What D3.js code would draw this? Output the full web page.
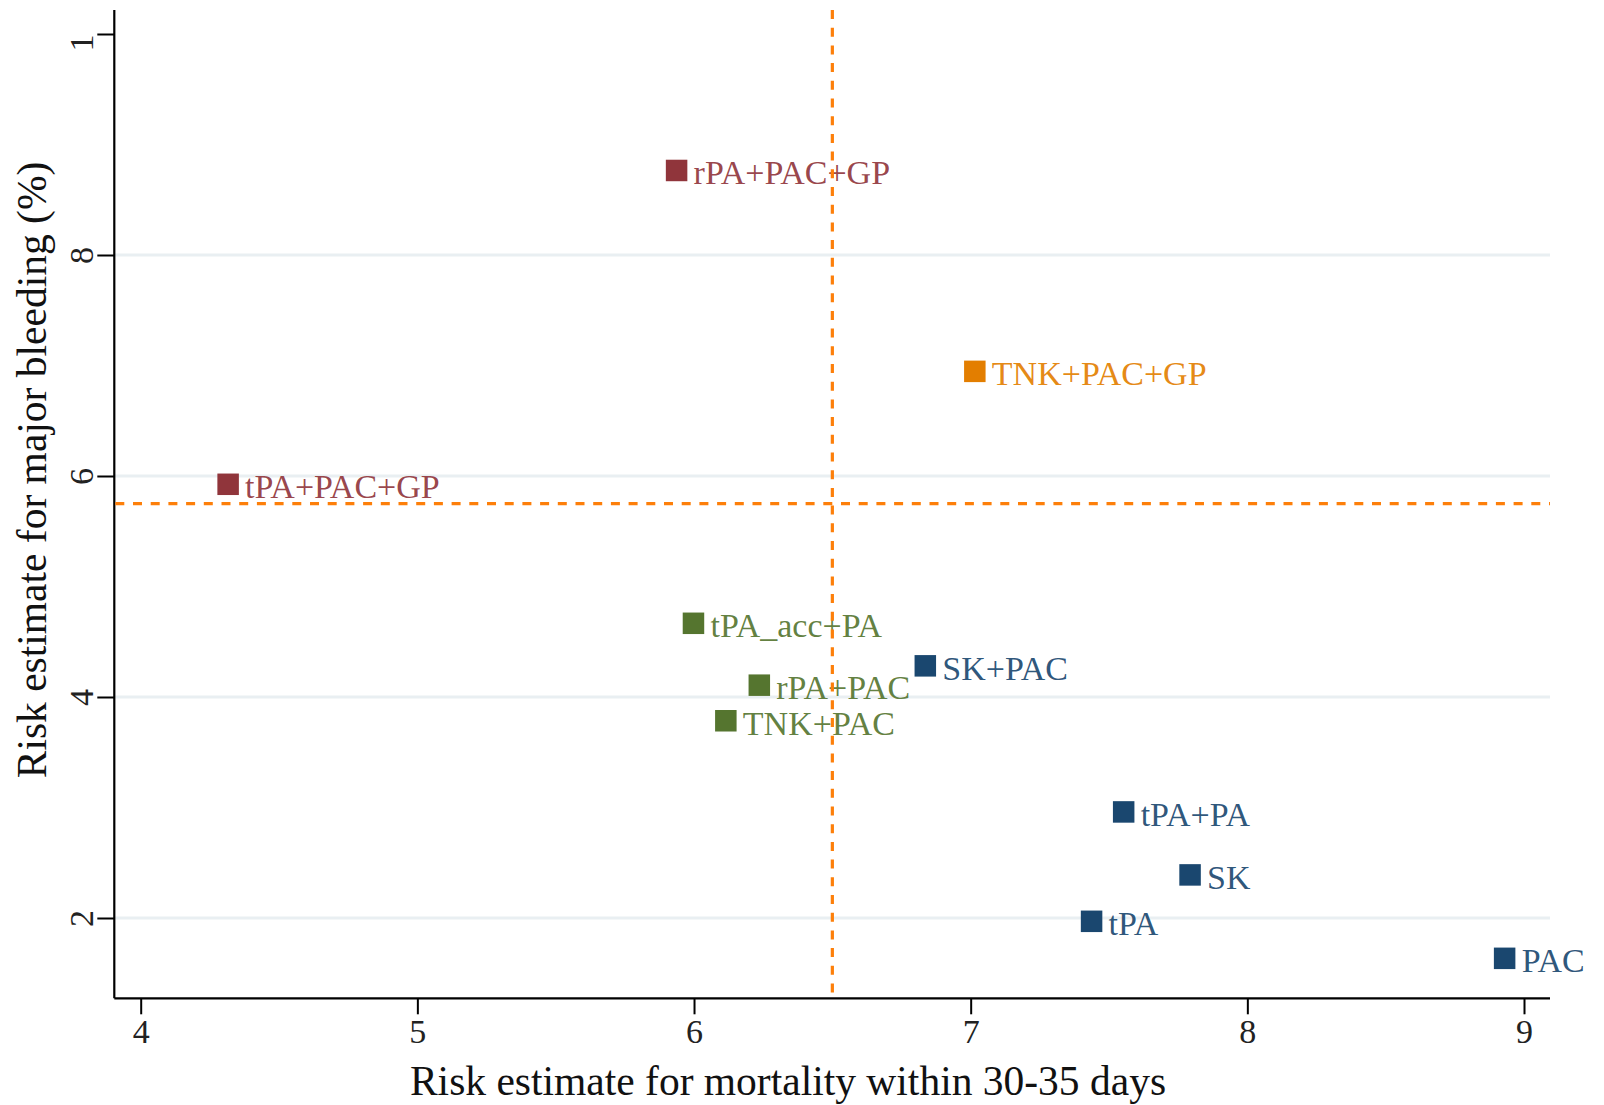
<!DOCTYPE html>
<html>
<head>
<meta charset="utf-8">
<script src="https://cdn.jsdelivr.net/npm/d3@7"></script>
<style>
  html, body { margin: 0; padding: 0; background: #ffffff; }
  svg { display: block; }
  text { font-family: "Liberation Serif", "Times New Roman", serif; }
</style>
</head>
<body>
<svg id="chart" width="1604" height="1105"></svg>
<script>
// ---- Data ----
const treatments = ["rPA+PAC+GP", "TNK+PAC+GP", "tPA+PAC+GP", "tPA_acc+PA", "rPA+PAC", "TNK+PAC", "SK+PAC", "tPA+PA", "SK", "tPA", "PAC"];
const mortality  = [5.937, 7.015, 4.316, 5.998, 6.236, 6.115, 6.836, 7.553, 7.793, 7.437, 8.930];
const bleeding   = [8.765, 6.947, 5.925, 4.667, 4.107, 3.785, 4.282, 2.960, 2.390, 1.970, 1.635];
const groupOf    = ["maroon", "orange", "maroon", "green", "green", "green", "navy", "navy", "navy", "navy", "navy"];
const groupNames = ["navy", "maroon", "green", "orange"];
const groupColors = ["#1a476f", "#90353b", "#55752f", "#e37e00"];
const xTicks = [4, 5, 6, 7, 8, 9];
const xTickLabels = ["4", "5", "6", "7", "8", "9"];
const yTicks = [2, 4, 6, 8, 10];
const yTickLabels = ["2", "4", "6", "8", "1"];
const gridValues = [2, 4, 6, 8];
const refMortality = [6.5];
const refBleeding = [5.75];
const xTitle = "Risk estimate for mortality within 30-35 days";
const yTitle = "Risk estimate for major bleeding (%)";

// ---- Layout ----
const svg = d3.select("#chart");
svg.append("rect").attr("width", 1604).attr("height", 1105).attr("fill", "#ffffff");

const axisX0 = 114.3, axisX1 = 1550, axisY = 998.3, axisTop = 10;
const x = d3.scaleLinear().domain([4, 9]).range([140.7, 1524]);
const y = d3.scaleLinear().domain([2, 10]).range([918, 34]);
const color = d3.scaleOrdinal().domain(groupNames).range(groupColors);

// gridlines
svg.append("g").selectAll("line").data(gridValues).join("line")
  .attr("x1", axisX0).attr("x2", axisX1)
  .attr("y1", d => y(d)).attr("y2", d => y(d))
  .attr("stroke", "#e9eff2").attr("stroke-width", 3);

// x axis
const xAxis = svg.append("g").attr("transform", `translate(0,${axisY})`)
  .call(d3.axisBottom(x).tickValues(xTicks).tickFormat((d, i) => xTickLabels[i]).tickSize(16).tickPadding(5));
xAxis.select(".domain").attr("d", `M${axisX0},0H${axisX1}`).attr("stroke", "#000").attr("stroke-width", 2.2);
xAxis.selectAll(".tick line").attr("stroke", "#000").attr("stroke-width", 2);
xAxis.selectAll(".tick text").attr("font-family", "Liberation Serif").attr("font-size", 34).attr("fill", "#222");

// y axis
const yAxis = svg.append("g").attr("transform", `translate(${axisX0},0)`)
  .call(d3.axisLeft(y).tickValues(yTicks).tickFormat((d, i) => yTickLabels[i]).tickSize(17));
yAxis.select(".domain").attr("d", `M0,${axisTop}V${axisY}`).attr("stroke", "#000").attr("stroke-width", 2.2);
yAxis.selectAll(".tick line").attr("stroke", "#000").attr("stroke-width", 2);
yAxis.selectAll(".tick text")
  .attr("font-family", "Liberation Serif").attr("font-size", 34).attr("fill", "#222")
  .attr("x", null).attr("dy", null)
  .attr("transform", "translate(-21,0) rotate(-90)")
  .attr("text-anchor", (d, i) => yTickLabels[i].length < String(d).length ? "end" : "middle");

// axis titles
svg.append("text").attr("x", 788).attr("y", 1095).attr("text-anchor", "middle")
  .attr("font-size", 41.5).attr("fill", "#111").text(xTitle);
svg.append("text").attr("transform", "translate(46,470) rotate(-90)").attr("text-anchor", "middle")
  .attr("font-size", 41.5).attr("fill", "#111").text(yTitle);

// markers
const pts = treatments.map((t, i) => ({ t, mx: mortality[i], by: bleeding[i], g: groupOf[i] }));
const size = 21.5;
const gp = svg.append("g");
gp.selectAll("rect").data(pts).join("rect")
  .attr("x", d => x(d.mx) - size / 2).attr("y", d => y(d.by) - size / 2)
  .attr("width", size).attr("height", size)
  .attr("fill", d => color(d.g));
gp.selectAll("text").data(pts).join("text")
  .attr("x", d => x(d.mx) + 17).attr("y", d => y(d.by) + 14)
  .attr("font-size", 34).attr("fill", d => color(d.g)).attr("fill-opacity", 0.92)
  .text(d => d.t);

// reference lines (dashed, on top)
svg.append("g").selectAll("line").data(refMortality).join("line")
  .attr("x1", d => x(d)).attr("x2", d => x(d)).attr("y1", axisTop).attr("y2", axisY - 1)
  .attr("stroke", "#fd7f0a").attr("stroke-width", 3.2).attr("stroke-dasharray", "9,8.7");
svg.append("g").selectAll("line").data(refBleeding).join("line")
  .attr("x1", axisX0 + 1).attr("x2", axisX1).attr("y1", d => y(d)).attr("y2", d => y(d))
  .attr("stroke", "#fd7f0a").attr("stroke-width", 3.2).attr("stroke-dasharray", "9,8.7");
</script>
</body>
</html>
